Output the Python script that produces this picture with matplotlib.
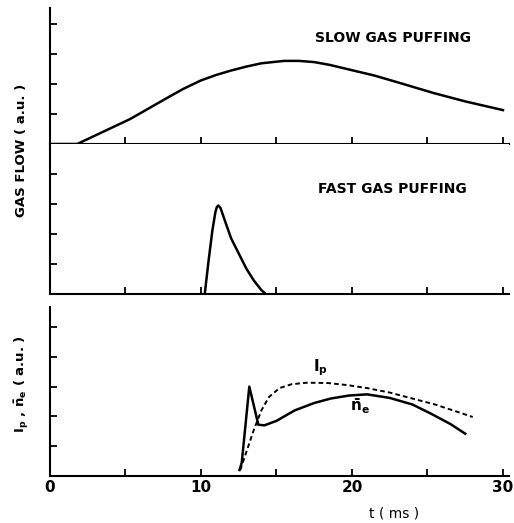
import matplotlib
matplotlib.use("Agg")
import matplotlib.pyplot as plt

plt.rcParams['font.family'] = ['DejaVu Sans']
plt.rcParams['font.weight'] = 'bold'
plt.rcParams['mathtext.default'] = 'bf'

# slow gas puffing (gas flow, a.u.)
t_slow = [0, 1.8, 5.3, 7.7, 8.8, 10, 11, 12, 13, 14, 15.5, 16.5, 17.5, 18.5, 19.5, 20.5, 21.5, 23.2, 25.4, 27.5, 30]
flow_slow = [0, 0, 0.83, 1.52, 1.83, 2.12, 2.3, 2.45, 2.58, 2.69, 2.77, 2.77, 2.73, 2.64, 2.52, 2.4, 2.28, 2.03, 1.7, 1.42, 1.13]

# fast gas puffing
t_fast = [10.25, 10.5, 10.75, 10.95, 11.05, 11.15, 11.3, 11.6, 12.0, 12.5, 13.0, 13.5, 14.0, 14.2]
flow_fast = [0, 1.1, 2.1, 2.72, 2.9, 2.95, 2.86, 2.42, 1.85, 1.35, 0.85, 0.45, 0.13, 0.04]

# plasma current (dashed) and line-averaged density (solid)
t_ip = [12.6, 13.0, 13.5, 14.0, 14.5, 15.2, 16, 17, 18.4, 19.7, 21, 22.5, 24, 25.5, 27, 28]
ip = [0.2, 0.8, 1.55, 2.2, 2.65, 2.95, 3.08, 3.13, 3.12, 3.05, 2.95, 2.8, 2.6, 2.4, 2.15, 1.98]
t_ne = [12.55, 12.7, 13.2, 13.8, 14.2, 15, 16.2, 17.5, 18.6, 19.8, 21, 22.5, 24, 25.2, 26.5, 27.5]
ne = [0.2, 0.45, 3.0, 1.72, 1.70, 1.85, 2.2, 2.45, 2.6, 2.7, 2.74, 2.62, 2.4, 2.1, 1.75, 1.42]

xticks = [0, 5, 10, 15, 20, 25, 30]
xlabels = ['0', '', '10', '', '20', '', '30']

W, H = 514, 523
fig = plt.figure(figsize=(W / 100, H / 100), dpi=100)

left = 50 / W
width = 459 / W


def frame(ax, ymax, yticks):
    ax.set_xlim(0, 30.4)
    ax.set_ylim(0, ymax)
    for s in ['top', 'right']:
        ax.spines[s].set_visible(False)
    for s in ['left', 'bottom']:
        ax.spines[s].set_linewidth(1.5)
    ax.set_xticks(xticks)
    ax.set_yticks(yticks)
    ax.tick_params(direction='in', length=5, width=1.3, labelleft=False)


ax1 = fig.add_axes([left, 1 - 144 / H, width, 136 / H])
frame(ax1, 136 / 30, [1, 2, 3, 4])
ax1.tick_params(labelbottom=False)
ax1.plot(t_slow, flow_slow, color='black', lw=1.8)
ax1.text(22.7, 3.55, 'SLOW GAS PUFFING', ha='center', va='center', fontsize=10)

ax2 = fig.add_axes([left, 1 - 294 / H, width, 150 / H])
frame(ax2, 5, [1, 2, 3, 4])
ax2.tick_params(labelbottom=False)
ax2.plot(t_fast, flow_fast, color='black', lw=1.8)
ax2.text(22.7, 3.5, 'FAST GAS PUFFING', ha='center', va='center', fontsize=10)

ax3 = fig.add_axes([left, 1 - 476 / H, width, 169 / H])
frame(ax3, 169 / 29.8, [1, 2, 3, 4, 5])
ax3.set_xticklabels(xlabels, fontsize=11)
ax3.tick_params(axis='x', pad=3)
ax3.plot(t_ip, ip, color='black', lw=1.4, linestyle=(0, (2.4, 1.6)))
ax3.plot(t_ne, ne, color='black', lw=1.8)
ax3.text(17.9, 3.62, r'$I_p$', ha='center', va='center', fontsize=11)
ax3.text(20.5, 2.35, r'$\bar{n}_e$', ha='center', va='center', fontsize=11)
ax3.set_xlabel('t ( ms )', fontsize=10)
ax3.xaxis.set_label_coords(22.8 / 30.4, -0.18)

fig.text(22 / W, 1 - 150 / H, 'GAS FLOW ( a.u. )', rotation=90,
         ha='center', va='center', fontsize=9.5)
fig.text(22 / W, 1 - 384 / H, r'$I_p$ , $\bar{n}_e$ ( a.u. )', rotation=90,
         ha='center', va='center', fontsize=9.5)

fig.savefig('out.png', dpi=100)
